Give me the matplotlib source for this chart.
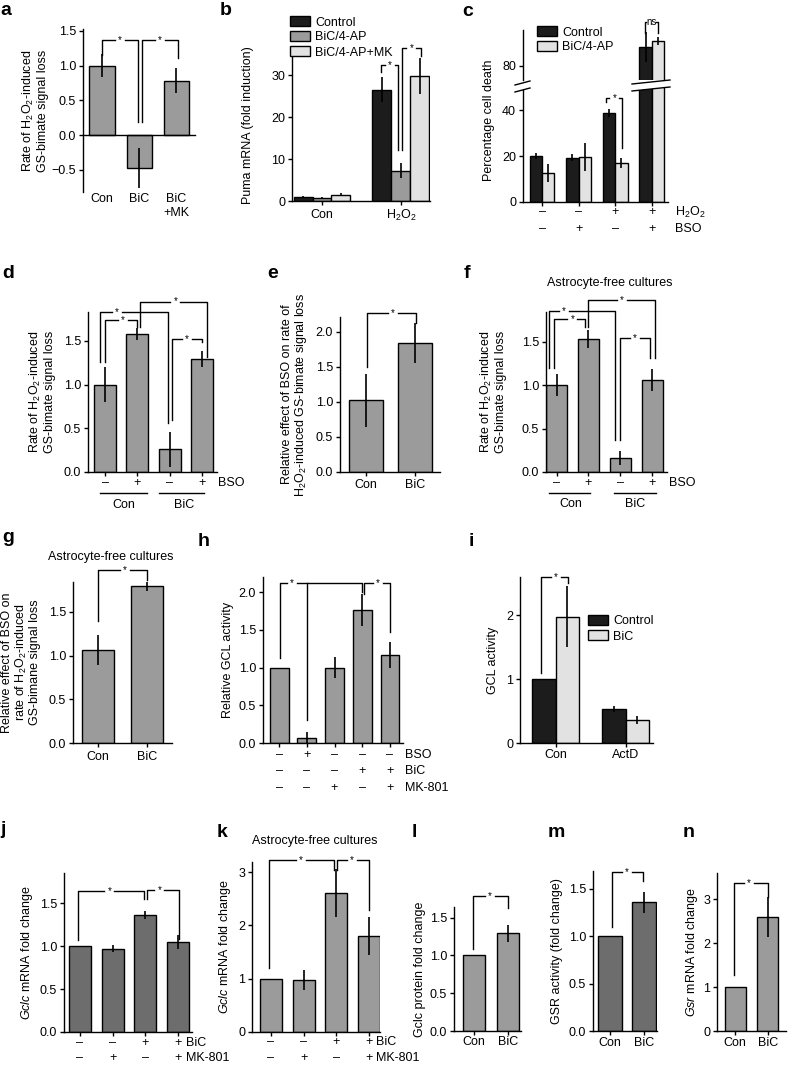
import matplotlib
matplotlib.use("Agg")
import matplotlib.pyplot as plt
import matplotlib.transforms as mtransforms
from matplotlib.patches import Polygon
from matplotlib.lines import Line2D
import numpy as np

# ---- data ----
a_labels = ["Con", "BiC", "BiC\n+MK"]
a_vals = [1.0, -0.47, 0.78]
a_err = [0.17, 0.29, 0.18]

b_groups = ["Con", "H$_2$O$_2$"]
b_series = ["Control", "BiC/4-AP", "BiC/4-AP+MK"]
b_control = [1.0, 26.5]
b_bic = [0.8, 7.2]
b_bicmk = [1.5, 29.8]
b_err_control = [0.1, 3.0]
b_err_bic = [0.1, 1.8]
b_err_bicmk = [0.3, 4.3]

c_series = ["Control", "BiC/4-AP"]
c_h2o2 = ["–", "–", "+", "+"]
c_bso = ["–", "+", "–", "+"]
c_control = [20.0, 19.3, 38.6, 88.3]
c_bic = [12.6, 19.6, 17.0, 90.9]
c_err_control = [1.2, 1.5, 1.8, 6.5]
c_err_bic = [4.0, 6.0, 2.0, 1.6]

d_bso = ["–", "+", "–", "+"]
d_groups = ["Con", "BiC"]
d_vals = [1.0, 1.58, 0.26, 1.29]
d_err = [0.2, 0.07, 0.2, 0.09]

e_labels = ["Con", "BiC"]
e_vals = [1.02, 1.84]
e_err = [0.38, 0.29]

f_vals = [1.0, 1.53, 0.16, 1.06]
f_err = [0.13, 0.1, 0.08, 0.13]

g_labels = ["Con", "BiC"]
g_vals = [1.06, 1.8]
g_err = [0.17, 0.06]

h_bso = ["–", "+", "–", "–", "–"]
h_bic = ["–", "–", "–", "+", "+"]
h_mk = ["–", "–", "+", "–", "+"]
h_vals = [1.0, 0.07, 1.0, 1.76, 1.17]
h_err = [0.0, 0.08, 0.14, 0.21, 0.17]

i_groups = ["Con", "ActD"]
i_series = ["Control", "BiC"]
i_control = [1.0, 0.53]
i_bic = [1.98, 0.36]
i_err_control = [0.0, 0.05]
i_err_bic = [0.48, 0.07]

j_bic = ["–", "–", "+", "+"]
j_mk = ["–", "+", "–", "+"]
j_vals = [1.0, 0.97, 1.36, 1.05]
j_err = [0.0, 0.04, 0.05, 0.08]

k_vals = [1.0, 0.97, 2.6, 1.8]
k_err = [0.0, 0.19, 0.45, 0.36]

two_labels = ["Con", "BiC"]
l_vals = [1.0, 1.29]
l_err = [0.0, 0.11]
m_vals = [1.0, 1.36]
m_err = [0.0, 0.11]
n_vals = [1.0, 2.6]
n_err = [0.0, 0.45]

GRAY = "#9b9b9b"
DARK = "#6d6d6d"
BLACK = "#1c1c1c"
LIGHT = "#e2e2e2"
FS = 9

plt.rcParams['font.family'] = ['Liberation Sans', 'DejaVu Sans']
plt.rcParams['mathtext.fontset'] = 'custom'
plt.rcParams['mathtext.rm'] = 'Liberation Sans'
plt.rcParams['mathtext.it'] = 'Liberation Sans:italic'
plt.rcParams['font.size'] = FS
plt.rcParams['axes.linewidth'] = 1.0

W, H = 788, 1065
fig = plt.figure(figsize=(W / 100, H / 100), dpi=100)


def fx(px):
    return px / W


def fy(py):
    return 1 - py / H


def make_ax(box, xlim, ylim, yticks, ylabel=None, label_px=None):
    left, top, right, bottom = box
    ax = fig.add_axes([fx(left), fy(bottom), (right - left) / W, (bottom - top) / H])
    ax.set_xlim(*xlim)
    ax.set_ylim(*ylim)
    ax.spines[['top', 'right']].set_visible(False)
    ax.set_yticks(yticks)
    ax.tick_params(direction='out', length=3, width=1, labelsize=FS, pad=2)
    ax.set_xticks([])
    if ylabel:
        ax.set_ylabel(ylabel, fontsize=FS, va='center', linespacing=1.05)
        ax.yaxis.set_label_coords((label_px - left) / (right - left), 0.5)
    return ax


def bars(ax, x, vals, err, color, width, label=None):
    b = ax.bar(x, vals, width, color=color, edgecolor='k', linewidth=1.0, zorder=2, label=label)
    ax.errorbar(x, vals, yerr=err, fmt='none', ecolor='k', elinewidth=1.2, capsize=0, zorder=3)
    return b


def ticks_at(ax, x):
    ax.set_xticks(x)
    ax.set_xticklabels([])
    ax.tick_params(axis='x', length=3)


def lab(ax, x, py, s, **kw):
    tr = mtransforms.blended_transform_factory(ax.transData, fig.transFigure)
    kw.setdefault('ha', 'center')
    kw.setdefault('va', 'center')
    ax.text(x, fy(py), s, transform=tr, fontsize=FS, **kw)


def uline(ax, x1, x2, py):
    tr = mtransforms.blended_transform_factory(ax.transData, fig.transFigure)
    ax.plot([x1, x2], [fy(py), fy(py)], color='k', lw=1, transform=tr, clip_on=False)


def bracket(ax, x1, x2, y, y1, y2, xs=None, text='*', extra=None):
    if xs is None:
        xs = (x1 + x2) / 2
    x0, x9 = ax.get_xlim()
    g = 5 * (x9 - x0) / (ax.get_position().width * W)
    kw = dict(color='k', lw=1.0, clip_on=False, zorder=4)
    ax.plot([x1, x1, xs - g], [y1, y, y], **kw)
    ax.plot([xs + g, x2, x2], [y, y, y2], **kw)
    if extra is not None:
        ax.plot([extra[0], extra[0]], [y, extra[1]], **kw)
    ax.text(xs, y, text, ha='center', va='center', fontsize=7, clip_on=False)


def side(px, py, s):
    fig.text(fx(px), fy(py), s, fontsize=FS, va='center')


def letter(s, px, py):
    fig.text(fx(px), fy(py), s, fontsize=14, weight='bold', ha='left', va='baseline')


def legend(ax, handles, px, py):
    ax.legend(handles=handles, loc='upper left', bbox_to_anchor=(fx(px), fy(py)),
              bbox_transform=fig.transFigure, frameon=False, fontsize=FS, handlelength=1.6,
              handleheight=0.9, labelspacing=0.2, handletextpad=0.4, borderpad=0, borderaxespad=0)


RATE = "Rate of H$_2$O$_2$-induced\nGS-bimate signal loss"

# ---------------- a ----------------
ax = make_ax((83, 29, 195, 192), (-0.51, 2.5), (-0.82, 1.527), [-0.5, 0, 0.5, 1.0, 1.5], RATE, 35)
ax.spines['bottom'].set_position(('data', 0))
x = np.arange(3)
bars(ax, x, a_vals, a_err, GRAY, 0.68)
for xi, s in zip(x, a_labels):
    lab(ax, xi, 193, s, va='top', linespacing=1.2)
bracket(ax, 0, 0.97, 1.37, 1.15, 0.19)
bracket(ax, 1.07, 2.05, 1.37, 0.19, 1.11)

# ---------------- b ----------------
ax = make_ax((292, 50, 430, 201), (-0.38, 1.37), (0, 36), [0, 10, 20, 30], "Puma mRNA (fold induction)", 248)
x = np.arange(2)
w = 0.24
h1 = bars(ax, x - w, b_control, b_err_control, BLACK, w, b_series[0])
h2 = bars(ax, x, b_bic, b_err_bic, GRAY, w, b_series[1])
h3 = bars(ax, x + w, b_bicmk, b_err_bicmk, LIGHT, w, b_series[2])
ticks_at(ax, x)
for xi, s in zip(x, b_groups):
    lab(ax, xi, 215, s)
bracket(ax, 0.75, 0.97, 32.4, 30.7, 12.1)
bracket(ax, 1.01, 1.26, 36.4, 12.1, 34.5)
legend(ax, [h1, h2, h3], 290, 16)

# ---------------- c ----------------
x = np.arange(4)
w = 0.34
axl = make_ax((523, 88, 668, 202), (-0.52, 3.44), (0, 49.6), [0, 20, 40], "Percentage cell death", 489)
axl.yaxis.label.set_position((axl.yaxis.label.get_position()[0], 0.72))
axu = make_ax((523, 30, 668, 80), (-0.52, 3.44), (73.9, 95.65), [80])
axu.spines['bottom'].set_visible(False)
axu.tick_params(axis='x', length=0)
for a_ in (axl, axu):
    hc = bars(a_, x - w / 2, c_control, c_err_control, BLACK, w, c_series[0])
    hb = bars(a_, x + w / 2, c_bic, c_err_bic, LIGHT, w, c_series[1])
ticks_at(axl, x)
for xi, s1, s2 in zip(x, c_h2o2, c_bso):
    lab(axl, xi, 212, s1)
    lab(axl, xi, 229, s2)
side(675, 212, "H$_2$O$_2$")
side(675, 229, "BSO")
bracket(axl, 1.76, 2.19, 45.2, 43.5, 23.5)
bracket(axu, 2.8, 3.16, 99.1, 94.3, 94.3, text='ns')
legend(axu, [hc, hb], 537, 26)
# break marks
for (x1, x2, ya, yb) in [(515, 530, 85, 81), (632, 670, 84, 80)]:
    poly = Polygon([(fx(x1), fy(ya)), (fx(x2), fy(yb)), (fx(x2), fy(yb + 7)), (fx(x1), fy(ya + 7))],
                   closed=True, facecolor='white', edgecolor='none', transform=fig.transFigure, zorder=10)
    fig.add_artist(poly)
    for dy in (0, 7):
        fig.add_artist(Line2D([fx(x1), fx(x2)], [fy(ya + dy), fy(yb + dy)], color='k', lw=1,
                              transform=fig.transFigure, zorder=11))

# ---------------- d ----------------
ax = make_ax((88, 312, 217, 472), (-0.53, 3.46), (0, 1.83), [0, 0.5, 1.0, 1.5], RATE, 42)
x = np.arange(4)
bars(ax, x, d_vals, d_err, GRAY, 0.68)
ticks_at(ax, x)
for xi, s in zip(x, d_bso):
    lab(ax, xi, 483, s)
side(218, 483, "BSO")
uline(ax, -0.15, 1.3, 493)
uline(ax, 1.67, 3.07, 493)
lab(ax, 0.57, 505, d_groups[0])
lab(ax, 2.45, 505, d_groups[1])
bracket(ax, -0.15, 1.95, 1.83, 1.26, 0.56, xs=0.37)
bracket(ax, 0.0, 0.99, 1.74, 1.26, 1.66, xs=0.56)
bracket(ax, 1.08, 3.16, 1.95, 1.66, 1.31, xs=2.17)
bracket(ax, 2.07, 3.0, 1.52, 0.6, 1.49)

# ---------------- e ----------------
ax = make_ax((340, 317, 440, 472), (-0.53, 1.51), (0, 2.21), [0, 0.5, 1.0, 1.5, 2.0],
             "Relative effect of BSO on rate of\nH$_2$O$_2$-induced GS-bimate signal loss", 295)
x = np.arange(2)
bars(ax, x, e_vals, e_err, GRAY, 0.69)
ticks_at(ax, x)
for xi, s in zip(x, e_labels):
    lab(ax, xi, 485, s)
bracket(ax, 0.02, 1.02, 2.26, 1.5, 2.13, xs=0.55)

# ---------------- f ----------------
ax = make_ax((546, 312, 667, 472), (-0.33, 3.47), (0, 1.84), [0, 0.5, 1.0, 1.5], RATE, 493)
x = np.arange(4)
bars(ax, x, f_vals, f_err, GRAY, 0.66)
ticks_at(ax, x)
for xi, s in zip(x, d_bso):
    lab(ax, xi, 483, s)
side(669, 483, "BSO")
uline(ax, -0.25, 1.06, 493)
uline(ax, 1.81, 3.13, 493)
lab(ax, 0.45, 504, d_groups[0])
lab(ax, 2.47, 504, d_groups[1])
fig.text(fx(610), fy(283), "Astrocyte-free cultures", fontsize=FS, ha='center', va='center')
bracket(ax, -0.25, 1.84, 1.85, 1.2, 0.37, xs=0.22)
bracket(ax, -0.09, 0.9, 1.76, 1.2, 1.67, xs=0.5)
bracket(ax, 1.0, 3.09, 1.98, 1.67, 1.31, xs=2.06)
bracket(ax, 2.0, 2.94, 1.54, 0.37, 1.31, xs=2.47)

# ---------------- g ----------------
ax = make_ax((73, 582, 172, 743), (-0.51, 1.51), (0, 1.84), [0, 0.5, 1.0, 1.5],
             "Relative effect of BSO on\nrate of H$_2$O$_2$-induced\nGS-bimane signal loss", 21)
x = np.arange(2)
bars(ax, x, g_vals, g_err, GRAY, 0.67)
ticks_at(ax, x)
for xi, s in zip(x, g_labels):
    lab(ax, xi, 757, s)
fig.text(fx(111), fy(557), "Astrocyte-free cultures", fontsize=FS, ha='center', va='center')
bracket(ax, 0.0, 1.0, 1.98, 1.39, 1.86, xs=0.55)

# ---------------- h ----------------
ax = make_ax((263, 577, 403, 743), (-0.58, 4.47), (0, 2.2), [0, 0.5, 1.0, 1.5, 2.0],
             "Relative GCL activity", 228)
x = np.arange(5)
bars(ax, x, h_vals, h_err, GRAY, 0.68)
ticks_at(ax, x)
for xi, s1, s2, s3 in zip(x, h_bso, h_bic, h_mk):
    lab(ax, xi, 755, s1)
    lab(ax, xi, 771, s2)
    lab(ax, xi, 788, s3)
for py, s in zip([755, 771, 788], ["BSO", "BiC", "MK-801"]):
    side(405, py, s)
bracket(ax, 0.04, 2.99, 2.12, 1.13, 2.0, xs=0.47, extra=(1.0, 0.3))
bracket(ax, 3.06, 4.0, 2.12, 1.98, 1.47, xs=3.56)

# ---------------- i ----------------
ax = make_ax((520, 577, 653, 743), (-0.51, 1.39), (0, 2.6), [0, 1, 2], "GCL activity", 493)
x = np.arange(2)
w = 0.336
hc = bars(ax, x - w / 2, i_control, i_err_control, BLACK, w, i_series[0])
hb = bars(ax, x + w / 2, i_bic, i_err_bic, LIGHT, w, i_series[1])
ticks_at(ax, x)
for xi, s in zip(x, i_groups):
    lab(ax, xi, 755, s)
bracket(ax, -0.21, 0.17, 2.6, 1.1, 2.5, xs=0.0)
legend(ax, [hc, hb], 588, 615)

# ---------------- j ----------------
ax = make_ax((64, 873, 192, 1032), (-0.49, 3.43), (0, 1.85), [0, 0.5, 1.0, 1.5],
             "$\\it{Gclc}$ mRNA fold change", 27)
x = np.arange(4)
bars(ax, x, j_vals, j_err, DARK, 0.67)
ticks_at(ax, x)
for xi, s1, s2 in zip(x, j_bic, j_mk):
    lab(ax, xi, 1043, s1)
    lab(ax, xi, 1058, s2)
side(186, 1043, "BiC")
side(186, 1058, "MK-801")
bracket(ax, -0.06, 1.96, 1.64, 1.07, 1.55, xs=0.9)
bracket(ax, 2.05, 3.03, 1.65, 1.55, 1.08, xs=2.43)

# ---------------- k ----------------
ax = make_ax((252, 862, 380, 1032), (-0.58, 3.34), (0, 3.19), [0, 1, 2, 3],
             "$\\it{Gclc}$ mRNA fold change", 225)
x = np.arange(4)
bars(ax, x, k_vals, k_err, GRAY, 0.67)
ticks_at(ax, x)
for xi, s1, s2 in zip(x, j_bic, j_mk):
    lab(ax, xi, 1042, s1)
    lab(ax, xi, 1058, s2)
side(376, 1042, "BiC")
side(376, 1058, "MK-801")
fig.text(fx(315), fy(841), "Astrocyte-free cultures", fontsize=FS, ha='center', va='center')
bracket(ax, -0.06, 1.93, 3.23, 1.2, 3.04, xs=0.92)
bracket(ax, 2.02, 3.0, 3.23, 3.04, 2.28, xs=2.48)

# ---------------- l ----------------
ax = make_ax((454, 907, 521, 1031), (-0.59, 1.38), (0, 1.64), [0, 0.5, 1.0, 1.5],
             "Gclc protein fold change", 420)
x = np.arange(2)
bars(ax, x, l_vals, l_err, GRAY, 0.65)
ticks_at(ax, x)
for xi, s in zip(x, two_labels):
    lab(ax, xi, 1042, s)
bracket(ax, -0.03, 1.0, 1.78, 1.08, 1.63, xs=0.47)

# ---------------- m ----------------
ax = make_ax((593, 871, 657, 1031), (-0.5, 1.38), (0, 1.69), [0, 0.5, 1.0, 1.5],
             "GSR activity (fold change)", 557)
bars(ax, x, m_vals, m_err, DARK, 0.68)
ticks_at(ax, x)
for xi, s in zip(x, two_labels):
    lab(ax, xi, 1043, s)
bracket(ax, 0.06, 0.97, 1.68, 1.1, 1.58, xs=0.5)

# ---------------- n ----------------
ax = make_ax((717, 873, 786, 1031), (-0.55, 1.55), (0, 3.6), [0, 1, 2, 3],
             "$\\it{Gsr}$ mRNA fold change", 692)
bars(ax, x, n_vals, n_err, GRAY, 0.64)
ticks_at(ax, x)
for xi, s in zip(x, two_labels):
    lab(ax, xi, 1043, s)
bracket(ax, -0.03, 1.0, 3.38, 1.28, 3.05, xs=0.42)

# panel letters
for s, px, py in [("a", 0, 15), ("b", 220, 15), ("c", 462, 16),
                  ("d", 2, 278), ("e", 267, 278), ("f", 464, 278),
                  ("g", 2, 542), ("h", 198, 546), ("i", 469, 546),
                  ("j", 0, 834), ("k", 217, 837), ("l", 412, 837), ("m", 548, 837), ("n", 683, 837)]:
    letter(s, px, py)

fig.savefig("out.png", dpi=100)
